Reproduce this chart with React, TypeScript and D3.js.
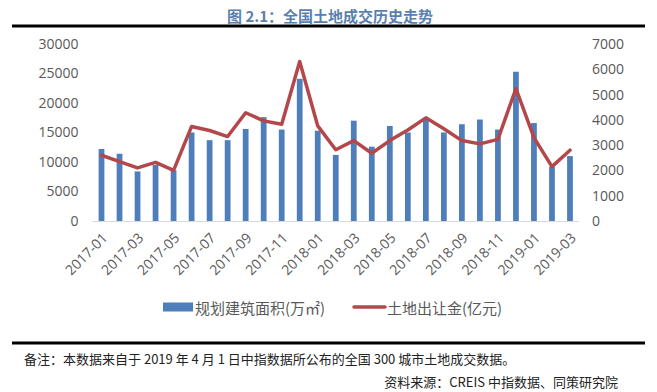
import React, { useEffect, useRef } from 'react';
import * as d3 from 'd3';

const months = [
  '2017-01', '2017-02', '2017-03', '2017-04', '2017-05', '2017-06', '2017-07', '2017-08', '2017-09',
  '2017-10', '2017-11', '2017-12', '2018-01', '2018-02', '2018-03', '2018-04', '2018-05', '2018-06',
  '2018-07', '2018-08', '2018-09', '2018-10', '2018-11', '2018-12', '2019-01', '2019-02', '2019-03',
];
// 规划建筑面积 (万㎡)
const floorArea = [
  12200, 11400, 8400, 9500, 8600, 15000, 13700, 13700, 15600,
  17600, 15500, 24100, 15300, 11200, 17000, 12600, 16100, 15000,
  17300, 15000, 16400, 17200, 15500, 25300, 16600, 9200, 11000,
];
// 土地出让金 (亿元)
const landRevenue = [
  2600, 2350, 2100, 2320, 2000, 3740, 3580, 3340, 4280,
  3960, 3830, 6310, 3760, 2820, 3180, 2680, 3180, 3600,
  4080, 3650, 3180, 3050, 3230, 5240, 3300, 2150, 2800,
];
const leftTicks = [0, 5000, 10000, 15000, 20000, 25000, 30000];
const rightTicks = [0, 1000, 2000, 3000, 4000, 5000, 6000, 7000];
const xTickLabels = months.filter((d, i) => i % 2 === 0);

const title = '图 2.1：全国土地成交历史走势';
const legendBar = '规划建筑面积(万㎡)';
const legendLine = '土地出让金(亿元)';
const note = '备注：本数据来自于 2019 年 4 月 1 日中指数据所公布的全国 300 城市土地成交数据。';
const source = '资料来源：CREIS 中指数据、同策研究院';

export default function App() {
  const ref = useRef<SVGSVGElement>(null);
  const width = 657;
  const height = 392;
  const margin = { Top: 44, Right: 78, Bottom: 171, Left: 92.5 };
  const font = '"Open Sans", "Noto Sans CJK SC", sans-serif';
  const cjk = '"Noto Sans CJK SC", sans-serif';
  const axisColor = '#595959';
  const barColor = '#4f7fbb';
  const lineColor = '#b4474a';

  useEffect(() => {
    const svg = d3.select(ref.current);
    svg.selectAll('*').remove();
    svg.append('rect').attr('width', width).attr('height', height).attr('fill', '#fff');

    // ---------- scales ----------
    const x = d3.scaleBand()
      .domain(months)
      .range([margin.Left, width - margin.Right])
      .paddingInner(0.68)
      .paddingOuter(0.34);
    const yLeft = d3.scaleLinear().domain([0, 30000]).range([height - margin.Bottom, margin.Top]);
    const yRight = d3.scaleLinear().domain([0, 7000]).range([height - margin.Bottom, margin.Top]);
    const cx = (d: string) => (x(d) as number) + x.bandwidth() / 2;

    // ---------- title + rules ----------
    svg.append('text')
      .attr('x', 330).attr('y', 15)
      .attr('text-anchor', 'middle').attr('dominant-baseline', 'central')
      .attr('font-family', cjk).attr('font-weight', 'bold').attr('font-size', 15)
      .attr('fill', '#5a7fae')
      .text(title);
    [26, 343].forEach((yy) => {
      svg.append('line')
        .attr('x1', 12).attr('x2', 645).attr('y1', yy).attr('y2', yy)
        .attr('stroke', '#000').attr('stroke-width', 3);
    });

    // ---------- axes ----------
    const leftAxis = svg.append('g')
      .attr('transform', `translate(${margin.Left},0)`)
      .call(d3.axisLeft(yLeft).tickValues(leftTicks).tickFormat(d3.format('d')).tickSize(0).tickPadding(14));
    const rightAxis = svg.append('g')
      .attr('transform', `translate(${width - margin.Right},0)`)
      .call(d3.axisRight(yRight).tickValues(rightTicks).tickFormat(d3.format('d')).tickSize(0).tickPadding(13));
    [leftAxis, rightAxis].forEach((g) => {
      g.select('.domain').remove();
      g.selectAll('.tick text')
        .attr('fill', axisColor)
        .attr('font-family', font)
        .attr('font-size', 14);
    });

    // baseline
    svg.append('line')
      .attr('x1', margin.Left).attr('x2', width - margin.Right)
      .attr('y1', yLeft(0) + 0.5).attr('y2', yLeft(0) + 0.5)
      .attr('stroke', '#d9d9d9').attr('stroke-width', 1);

    // x labels
    svg.append('g')
      .selectAll('text')
      .data(xTickLabels)
      .join('text')
      .attr('transform', (d) => `translate(${cx(d) + 3},${yLeft(0) + 14}) rotate(-45)`)
      .attr('text-anchor', 'end')
      .attr('dominant-baseline', 'central')
      .attr('fill', axisColor)
      .attr('font-family', font)
      .attr('font-size', 14)
      .text((d) => d);

    // ---------- bars ----------
    svg.append('g')
      .selectAll('rect')
      .data(months)
      .join('rect')
      .attr('x', (d) => x(d) as number)
      .attr('width', x.bandwidth())
      .attr('y', (d, i) => yLeft(floorArea[i]))
      .attr('height', (d, i) => yLeft(0) - yLeft(floorArea[i]))
      .attr('fill', barColor);

    // ---------- line ----------
    svg.append('path')
      .datum(months)
      .attr('fill', 'none')
      .attr('stroke', lineColor)
      .attr('stroke-width', 3.5)
      .attr('stroke-linejoin', 'round')
      .attr('stroke-linecap', 'round')
      .attr('d', d3.line<string>()
        .x((d) => cx(d))
        .y((d, i) => yRight(landRevenue[i])));

    // ---------- legend ----------
    const ly = 307;
    svg.append('rect')
      .attr('x', 163).attr('y', ly - 4.5).attr('width', 30).attr('height', 9)
      .attr('fill', barColor);
    svg.append('text')
      .attr('x', 195).attr('y', ly)
      .attr('dominant-baseline', 'central')
      .attr('font-family', cjk).attr('font-size', 15).attr('fill', axisColor)
      .text(legendBar);
    svg.append('line')
      .attr('x1', 354).attr('x2', 385).attr('y1', ly).attr('y2', ly)
      .attr('stroke', lineColor).attr('stroke-width', 3.5).attr('stroke-linecap', 'round');
    svg.append('text')
      .attr('x', 387).attr('y', ly)
      .attr('dominant-baseline', 'central')
      .attr('font-family', cjk).attr('font-size', 15).attr('fill', axisColor)
      .text(legendLine);

    // ---------- footnotes ----------
    svg.append('text')
      .attr('x', 24).attr('y', 358)
      .attr('dominant-baseline', 'central')
      .attr('font-family', cjk).attr('font-size', 13).attr('fill', '#222')
      .text(note);
    svg.append('text')
      .attr('x', 618).attr('y', 381)
      .attr('text-anchor', 'end')
      .attr('dominant-baseline', 'central')
      .attr('font-family', cjk).attr('font-size', 13).attr('fill', '#222')
      .text(source);
  }, []);

  return (
    <svg
      ref={ref}
      width={width}
      height={height}
      style={{ position: 'absolute', left: 0, top: 0, display: 'block' }}
    />
  );
}
